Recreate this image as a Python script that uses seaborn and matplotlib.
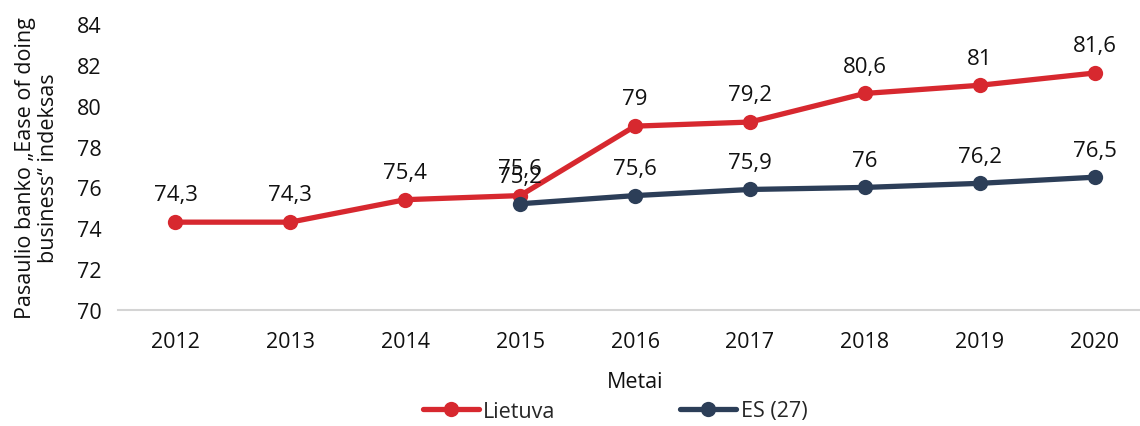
import matplotlib
matplotlib.use("Agg")
import matplotlib.pyplot as plt
import seaborn as sns
import numpy as np
import pandas as pd

# data
years = ["2012", "2013", "2014", "2015", "2016", "2017", "2018", "2019", "2020"]
lietuva = [74.3, 74.3, 75.4, 75.6, 79.0, 79.2, 80.6, 81.0, 81.6]
es27 = [np.nan, np.nan, np.nan, 75.2, 75.6, 75.9, 76.0, 76.2, 76.5]
series_names = ["Lietuva", "ES (27)"]
y_ticks = [70, 72, 74, 76, 78, 80, 82, 84]

colors = {"Lietuva": "#D7282F", "ES (27)": "#2C3E58"}

df = pd.DataFrame({
    "Metai": years * 2,
    "value": lietuva + es27,
    "series": [series_names[0]] * len(years) + [series_names[1]] * len(years),
})
df["x"] = df["Metai"].map({y: i for i, y in enumerate(years)})
df = df.dropna()

sns.set_style("white")
plt.rcParams["font.family"] = ["Open Sans", "DejaVu Sans"]

fig = plt.figure(figsize=(11.4, 4.27), dpi=100)
ax = fig.add_axes([118 / 1140, 1 - 311 / 427, (1152 - 118) / 1140, (311 - 25) / 427])

sns.lineplot(data=df, x="x", y="value", hue="series", hue_order=series_names,
             palette=colors, marker="o", markersize=11, markeredgewidth=0,
             linewidth=3.8, ax=ax)

# data labels
for name in series_names:
    sub = df[df["series"] == name]
    for xv, yv in zip(sub["x"], sub["value"]):
        txt = f"{yv:g}".replace(".", ",")
        ax.annotate(txt, (xv, yv), xytext=(0, 12), textcoords="offset points",
                    ha="center", va="bottom", fontsize=16, color="#111111")

ax.set_xlim(-0.5, 8.5)
ax.set_ylim(70, 84)
ax.set_xticks(range(len(years)))
ax.set_xticklabels(years)
ax.set_yticks(y_ticks)
ax.tick_params(axis="both", labelsize=15.5, colors="#111111")
ax.tick_params(axis="y", length=4, color="#c8c8c8", pad=8)
ax.tick_params(axis="x", length=0, pad=15)

for s in ["top", "right", "left"]:
    ax.spines[s].set_visible(False)
ax.spines["bottom"].set_color("#d4d4d4")
ax.spines["bottom"].set_linewidth(1.5)

ax.set_xlabel("Metai", fontsize=15.5, color="#111111", labelpad=14)
ax.set_ylabel("Pasaulio banko \u201eEase of doing\nbusiness\u201c indeksas",
              fontsize=15.5, color="#111111", labelpad=13, linespacing=1.1)

handles, labels = ax.get_legend_handles_labels()
ax.legend(handles, labels, loc="center", bbox_to_anchor=(497 / 1034, -(412 - 311) / 286),
          ncol=2, frameon=False, fontsize=15.5, columnspacing=5.8, handlelength=2.6,
          handletextpad=0.2, borderpad=0.1)

fig.savefig("out.png", dpi=100)
